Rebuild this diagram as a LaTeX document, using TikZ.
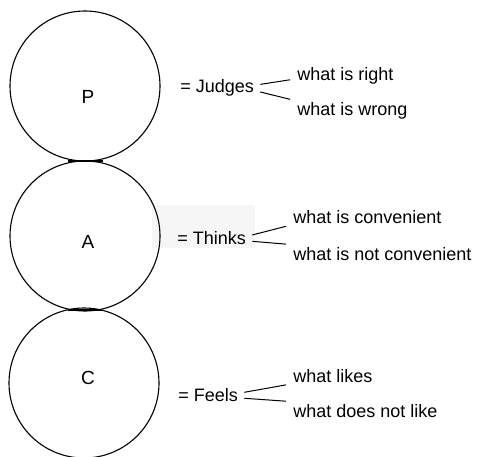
\documentclass[tikz,border=0pt]{standalone}
\usepackage{fontspec}
\setmainfont{Liberation Sans}
\usetikzlibrary{positioning}

\begin{document}
\begin{tikzpicture}[x=1pt, y=-1pt, line width=0.8pt,
                    ego/.style={circle, draw, line width=1.1pt, minimum size=150pt, inner sep=0pt},
                    egoname/.style={font=\fontsize{19}{21}\selectfont},
                    role/.style={anchor=west, inner sep=2pt, font=\fontsize{18}{20}\selectfont},
                    choice/.style={anchor=base west, inner sep=2pt, font=\fontsize{18}{20}\selectfont},
                    branch/.style={line width=1pt, shorten <=4pt, shorten >=5pt},
                    neck/.style={line width=2.6pt}]
  \useasboundingbox (0,0) rectangle (479,457);
  \fill[gray!7] (152,205) rectangle (255,248);
  % the three circles
  \node[ego] (P) at (85,86) {};
  \node[ego] (A) at (85,236) {};
  \node[ego] (C) at (84,383) {};
  \node[egoname] (Pname) at (88,97) {P};
  \node[egoname] (Aname) at (88,242) {A};
  \node[egoname] (Cname) at (88,378) {C};
  \coordinate (pa1) at (68,161);
  \coordinate (pa2) at (103,161);
  \coordinate (ac1) at (68,310);
  \coordinate (ac2) at (102,310);
  \draw[neck] (pa1) -- (pa2);
  \draw[neck] (ac1) -- (ac2);
  % what each one does
  \node[role] (judges) at (178,88) {= Judges};
  \node[role] (thinks) at (175,238) {= Thinks};
  \node[role] (feels) at (176,395) {= Feels};
  \node[choice] (right) at (295,81) {what is right};
  \node[choice] (wrong) at (295,116) {what is wrong};
  \node[choice] (conv) at (291,223) {what is convenient};
  \node[choice] (notconv) at (291,260) {what is not convenient};
  \node[choice] (likes) at (291,382) {what likes};
  \node[choice] (nolikes) at (291,417) {what does not like};
  \draw[branch] ([yshift=3pt]judges.east) -- ([yshift=2pt]right.base west);
  \draw[branch] ([yshift=-3pt]judges.east) -- (wrong.north west);
  \draw[branch] ([yshift=2pt]thinks.east) -- ([yshift=-2pt]conv.base west);
  \draw[branch] ([yshift=-3pt]thinks.east) -- (notconv.north west);
  \draw[branch] ([yshift=2pt]feels.east) -- ([yshift=-2pt]likes.base west);
  \draw[branch] ([yshift=-3pt]feels.east) -- (nolikes.north west);
\end{tikzpicture}
\end{document}
